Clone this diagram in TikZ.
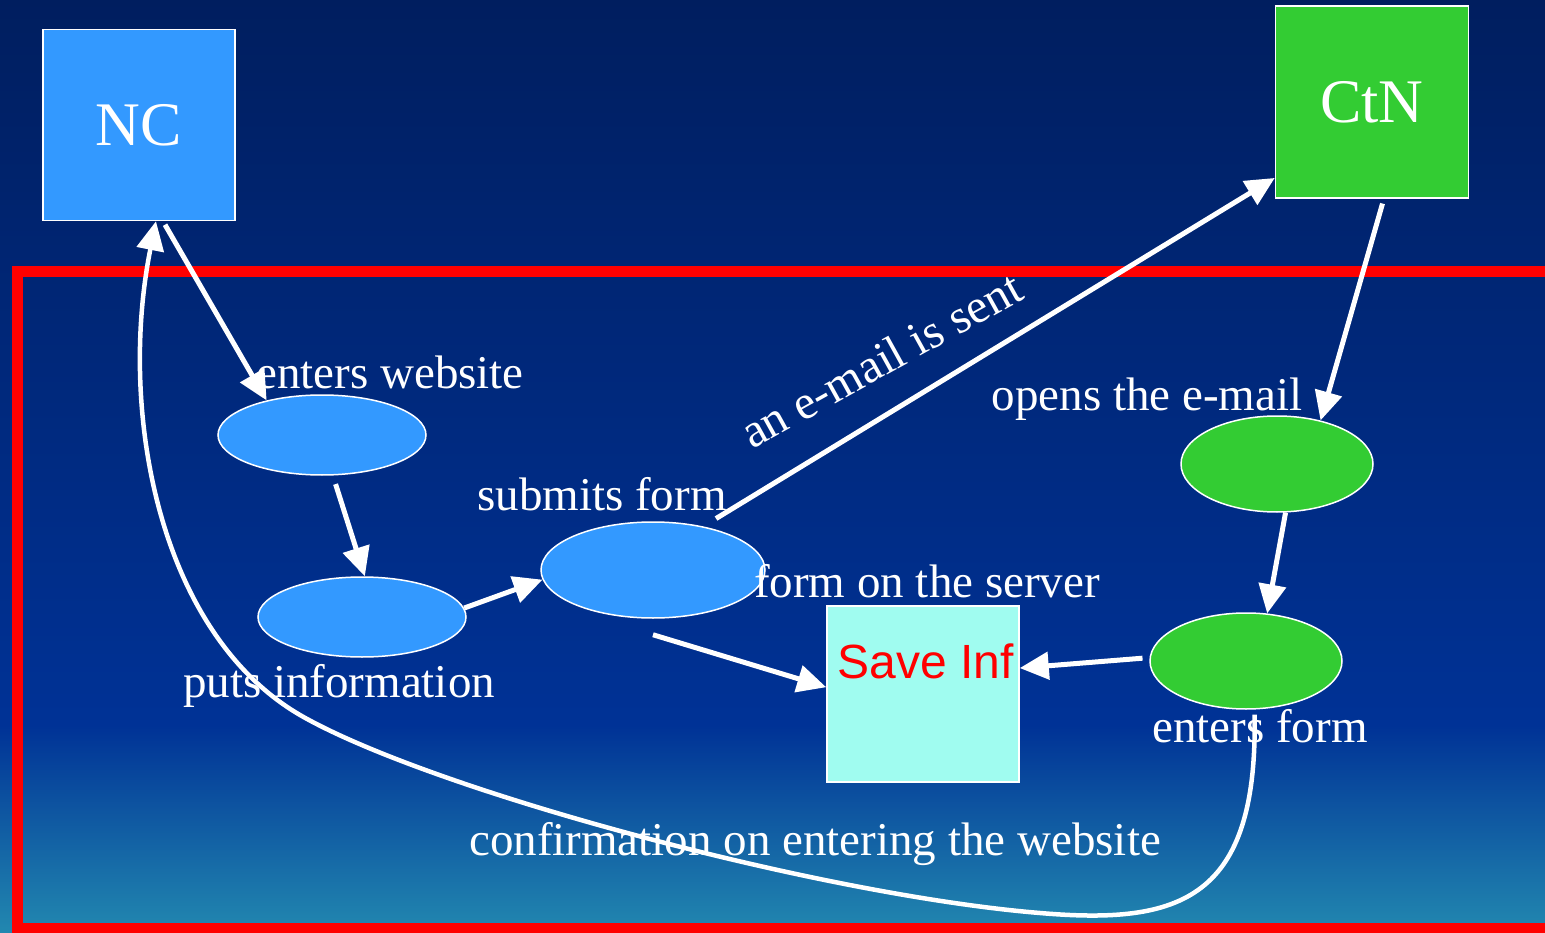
\documentclass[tikz,border=0pt]{standalone}
\usepackage{fontspec}
\setmainfont{Liberation Serif}
\newfontfamily\arialf{Liberation Sans}
\usetikzlibrary{shapes.geometric,arrows.meta}
\definecolor{bgtop}{RGB}{0,30,95}
\definecolor{bgmid}{RGB}{0,50,150}
\definecolor{bgbot}{RGB}{34,136,176}
\definecolor{ncblue}{RGB}{51,153,255}
\definecolor{ctgreen}{RGB}{51,204,51}
\definecolor{aqua}{RGB}{160,252,240}
\begin{document}
\begin{tikzpicture}[x=1pt,y=-1pt,
  nbox/.style={draw=white, line width=1.5pt, text=white, inner sep=0pt,
    font=\fontsize{62}{62}\selectfont},
  ell/.style={ellipse, draw=white, line width=1.5pt, inner sep=0pt},
  lbl/.style={text=white, inner sep=0pt, anchor=base,
    font=\fontsize{47}{47}\selectfont},
  arr/.style={draw=white, line width=5pt,
    -{Triangle[length=29pt,width=27pt]}}]
\useasboundingbox (0,0) rectangle (1545,933);
\clip (0,0) rectangle (1545,933);
% background
\shade[top color=bgtop, bottom color=bgmid] (0,0) rectangle (1545,726);
\shade[top color=bgmid, bottom color=bgbot] (0,725) rectangle (1545,933);
% red frame
\draw[red, line width=11pt, line join=miter] (1570,271.5) -- (17.5,271.5) -- (17.5,928) -- (1570,928);
% boxes
\node[nbox, fill=ncblue, minimum width=192pt, minimum height=191pt] (NC) at (139,125) {NC};
\node[nbox, fill=ctgreen, minimum width=193pt, minimum height=192pt] (CtN) at (1372,102) {CtN};
\node[draw=white, line width=1.5pt, fill=aqua, minimum width=192pt, minimum height=176pt, inner sep=0pt] (si) at (923,694) {};
\node[anchor=base, text=red, inner sep=0pt, font=\arialf\fontsize{48}{48}\selectfont] (sitext) at (926,678) {Save Inf};
% ellipses
\node[ell, fill=ncblue, minimum width=208pt, minimum height=80pt] (e1) at (322,435) {};
\node[ell, fill=ncblue, minimum width=208pt, minimum height=80pt] (e2) at (362,617) {};
\node[ell, fill=ncblue, minimum width=224pt, minimum height=96pt] (e3) at (653,570) {};
\node[ell, fill=ctgreen, minimum width=192pt, minimum height=96pt] (e4) at (1277,464) {};
\node[ell, fill=ctgreen, minimum width=192pt, minimum height=96pt] (e5) at (1246,661) {};
% labels
\node[lbl] (lweb) at (390,388) {enters website};
\node[lbl] (lput) at (339,697) {puts information};
\node[lbl] (lsub) at (602,510) {submits form};
\node[lbl] (lsrv) at (927,597) {form on the server};
\node[lbl] (lopen) at (1147,410) {opens the e-mail};
\node[lbl] (lform) at (1260,742) {enters form};
\node[lbl] (lconf) at (815,855) {confirmation on entering the website};
\node[lbl, rotate=29, font=\fontsize{48}{48}\selectfont] (lsent) at (889,374) {an e-mail is sent};
% edges
\draw[arr, shorten <=4pt] (NC.-76) -- (e1.148);
\draw[arr, shorten <=9pt] (e1.-75) -- (e2.86);
\draw[arr] (e2.5) -- (e3.185);
\draw[arr, shorten <=15pt] (e3.41.5) -- (CtN.218);
\draw[arr] ([yshift=-16pt]e3.south) -- (si.176);
\draw[arr, shorten <=5pt] (CtN.-83) -- (e4.45);
\draw[arr] (e4.-80) -- (e5.66);
\draw[arr, shorten <=7pt] (e5.178) -- (si.15);
\draw[arr, line width=4.5pt] ([yshift=-5pt]e5.-80) .. controls (1258,900) and (1180,925) .. (1040,913)
  .. controls (820,895) and (430,790) .. (300,715)
  .. controls (158,632) and (118,410) .. (NC.-80);
\end{tikzpicture}
\end{document}
